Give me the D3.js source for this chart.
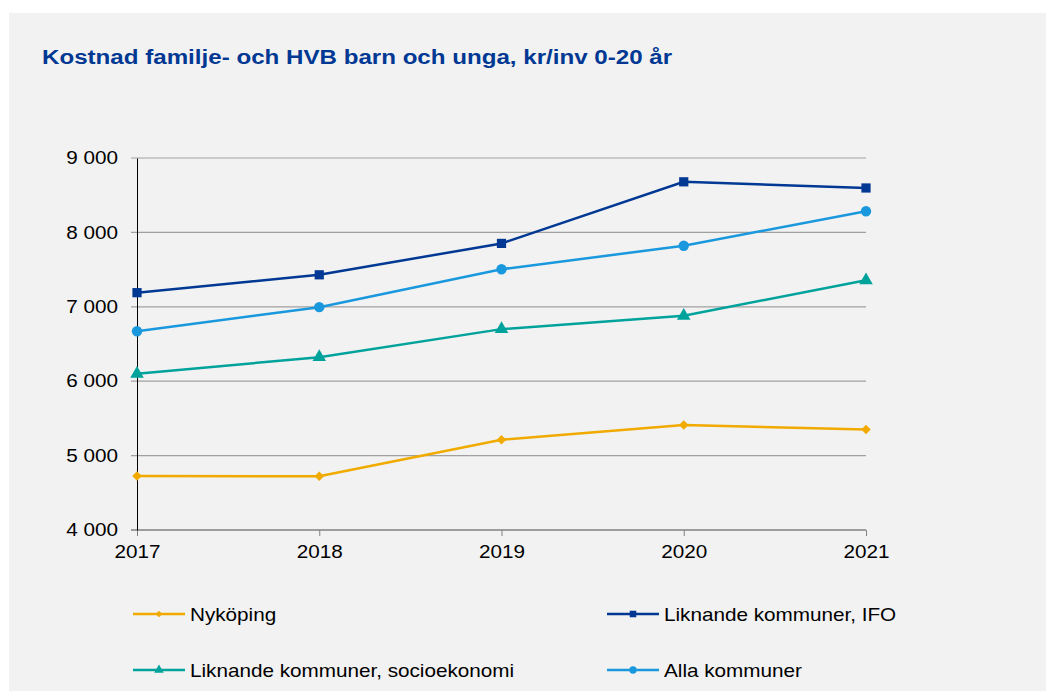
<!DOCTYPE html>
<html>
<head>
<meta charset="utf-8">
<script src="https://cdn.jsdelivr.net/npm/d3@7"></script>
<style>
  body { margin: 0; background: #fff; }
  svg { display: block; font-family: "Liberation Sans", Arial, sans-serif; }
</style>
</head>
<body>
<div id="chart"></div>
<script>
const years = [2017, 2018, 2019, 2020, 2021];
const yTicks = [4000, 5000, 6000, 7000, 8000, 9000];

const nykoping = [4725, 4722, 5213, 5410, 5350];
const ifo = [7190, 7430, 7852, 8680, 8597];
const socio = [6100, 6323, 6700, 6880, 7357];
const alla = [6672, 6995, 7505, 7820, 8284];

const seriesNames = ["Nyköping", "Liknande kommuner, IFO", "Liknande kommuner, socioekonomi", "Alla kommuner"];
const seriesColors = ["#f0aa00", "#003893", "#00a39b", "#1a98de"];

const width = 1046, height = 691;
const margin = { top: 158, right: 180, bottom: 161, left: 137 };
const innerW = width - margin.left - margin.right;
const innerH = height - margin.top - margin.bottom;
const stretch = 1.15; // reference text is a bit wider than Liberation Sans

const svg = d3.select("#chart")
  .append("svg")
  .attr("width", width)
  .attr("height", height);

svg.append("rect")
  .attr("x", 9)
  .attr("y", 13)
  .attr("width", width - 9)
  .attr("height", height - 13)
  .attr("fill", "#f2f2f2");

svg.append("text")
  .attr("transform", `translate(42,64) scale(${stretch},1)`)
  .attr("fill", "#003893")
  .style("font-size", "21px")
  .style("font-weight", "bold")
  .text("Kostnad familje- och HVB barn och unga, kr/inv 0-20 år");

const chart = svg.append("g")
  .attr("transform", `translate(${margin.left},${margin.top})`);

const x = d3.scalePoint()
  .domain(years)
  .range([0, innerW]);

const y = d3.scaleLinear()
  .domain([4000, 9000])
  .range([innerH, 0]);

// gridlines
chart.append("g")
  .selectAll("line")
  .data(yTicks.slice(1))
  .enter()
  .append("line")
  .attr("x1", -6)
  .attr("x2", innerW)
  .attr("y1", d => y(d))
  .attr("y2", d => y(d))
  .attr("stroke", "#a0a0a0")
  .attr("stroke-width", 1.2);

// x axis
const xAxis = chart.append("g")
  .attr("transform", `translate(0,${innerH})`)
  .call(d3.axisBottom(x).tickSize(6).tickSizeOuter(0));
xAxis.select(".domain").remove();
xAxis.append("line")
  .attr("x1", -6).attr("x2", innerW)
  .attr("stroke", "#808080").attr("stroke-width", 1.5);
xAxis.selectAll(".tick line").attr("stroke", "#808080");
xAxis.selectAll("text")
  .attr("y", null)
  .attr("dy", null)
  .attr("transform", `translate(0,28) scale(${stretch},1)`)
  .attr("fill", "#000")
  .style("font-size", "18px")
  .style("font-family", "Liberation Sans, Arial, sans-serif");

// y axis
const yAxis = chart.append("g")
  .call(d3.axisLeft(y)
    .tickValues(yTicks)
    .tickSize(0)
    .tickFormat(d => d3.format(",")(d).replace(",", " ")));
yAxis.select(".domain").attr("stroke", "#000").attr("stroke-width", 1);
yAxis.selectAll("text")
  .attr("x", null)
  .attr("transform", `translate(-19,0) scale(${stretch},1)`)
  .attr("fill", "#000")
  .style("font-size", "18px")
  .style("font-family", "Liberation Sans, Arial, sans-serif");

const allSeries = [nykoping, ifo, socio, alla];
const markerType = [d3.symbolSquare, d3.symbolSquare, d3.symbolTriangle, d3.symbolCircle];
const markerSize = [45, 85, 80, 85];
const markerRotate = [45, 0, 0, 0];

const line = d3.line()
  .x((d, i) => x(years[i]))
  .y(d => y(d));

allSeries.forEach((values, s) => {
  chart.append("path")
    .datum(values)
    .attr("fill", "none")
    .attr("stroke", seriesColors[s])
    .attr("stroke-width", 2.5)
    .attr("d", line);

  chart.selectAll(".pt" + s)
    .data(values)
    .enter()
    .append("path")
    .attr("class", "pt" + s)
    .attr("transform", (d, i) => `translate(${x(years[i])},${y(d)}) rotate(${markerRotate[s]})`)
    .attr("d", d3.symbol().type(markerType[s]).size(markerSize[s]))
    .attr("fill", seriesColors[s]);
});

// legend
const legendPos = [[133, 614], [607, 614], [133, 670], [607, 670]];
seriesNames.forEach((name, s) => {
  const g = svg.append("g")
    .attr("transform", `translate(${legendPos[s][0]},${legendPos[s][1]})`);
  g.append("line")
    .attr("x1", 0).attr("x2", 52)
    .attr("stroke", seriesColors[s])
    .attr("stroke-width", 2.5);
  g.append("path")
    .attr("transform", `translate(26,0) rotate(${markerRotate[s]})`)
    .attr("d", d3.symbol().type(markerType[s]).size(markerSize[s] * 0.5))
    .attr("fill", seriesColors[s]);
  g.append("text")
    .attr("transform", `translate(57,7) scale(${stretch},1)`)
    .style("font-size", "18px")
    .attr("fill", "#000")
    .text(name);
});
</script>
</body>
</html>
